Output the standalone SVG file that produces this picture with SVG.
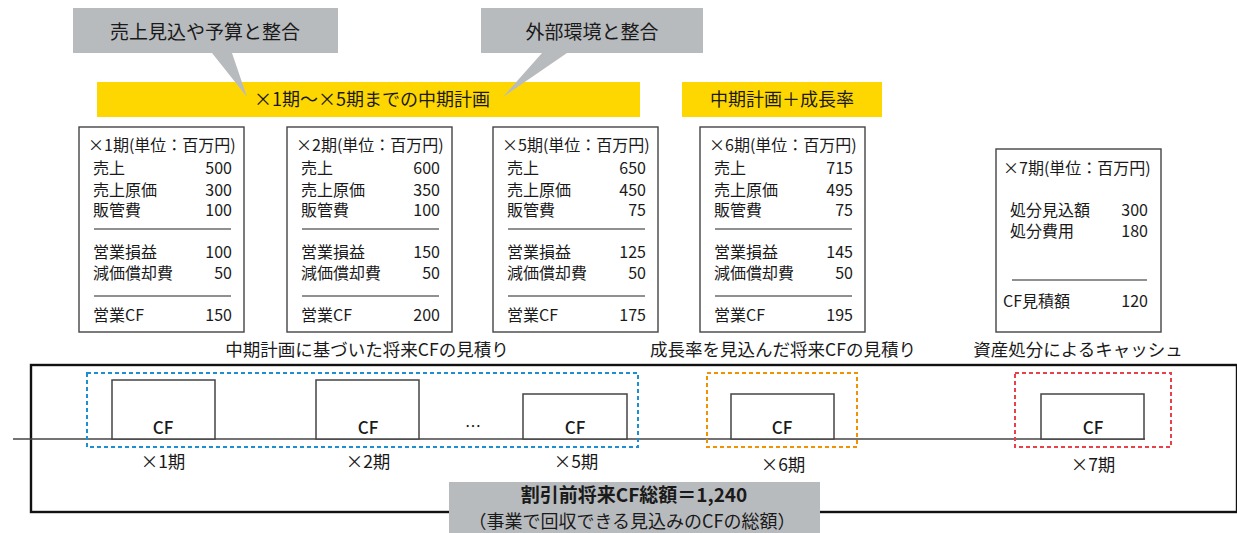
<svg xmlns="http://www.w3.org/2000/svg" width="1237" height="533" viewBox="0 0 1237 533">
<style>
text{font-family:"Noto Sans CJK JP","Noto Sans",sans-serif;fill:#1a1a1a}
.t{font-size:16px}
.n{font-size:16px;text-anchor:end}
.tbl{fill:#fff;stroke:#444;stroke-width:1.4}
.sep{stroke:#222;stroke-width:1.2}
.cf{fill:#fff;stroke:#444;stroke-width:1.5}
.cft{font-size:17px;font-weight:500;text-anchor:middle}
.lbl{font-size:17.5px;text-anchor:middle}
.yel{fill:#FFD700}
.gray{fill:#B8BBBE}
.dash{fill:none;stroke-width:2;stroke-dasharray:4 3}
</style>
<rect width="1237" height="533" fill="#fff"/>

<g id="plan-bar">
<rect class="yel" x="97" y="82" width="543" height="35"/>
<text x="372" y="106" font-size="18" text-anchor="middle">×1期～×5期までの中期計画</text>
</g>
<g id="growth-bar">
<rect class="yel" x="682" y="82" width="200" height="35"/>
<text x="782" y="106" font-size="18" text-anchor="middle">中期計画＋成長率</text>
</g>

<g id="callout-sales">
<path class="gray" d="M73,8 H338 V53 H232 L247,97 L212,53 H73 Z"/>
<text x="205" y="39" font-size="19" text-anchor="middle">売上見込や予算と整合</text>
</g>
<g id="callout-env">
<path class="gray" d="M481,8 H703 V53 H567 L503,97 L542,53 H481 Z"/>
<text x="592" y="39" font-size="19" text-anchor="middle">外部環境と整合</text>
</g>

<g id="table-p1">
<rect class="tbl" x="79" y="127" width="165" height="205"/>
<text class="t" x="88" y="151">×1期(単位：百万円)</text>
<text class="t" x="93" y="174">売上</text><text class="n" x="232" y="174">500</text>
<text class="t" x="93" y="196">売上原価</text><text class="n" x="232" y="196">300</text>
<text class="t" x="93" y="216">販管費</text><text class="n" x="232" y="216">100</text>
<line class="sep" x1="94" y1="229" x2="231" y2="229"/>
<text class="t" x="93" y="258">営業損益</text><text class="n" x="232" y="258">100</text>
<text class="t" x="93" y="279">減価償却費</text><text class="n" x="232" y="279">50</text>
<line class="sep" x1="94" y1="296" x2="231" y2="296"/>
<text class="t" x="93" y="321">営業CF</text><text class="n" x="232" y="321">150</text>
</g>

<g id="table-p2">
<rect class="tbl" x="287" y="127" width="165" height="205"/>
<text class="t" x="296" y="151">×2期(単位：百万円)</text>
<text class="t" x="301" y="174">売上</text><text class="n" x="440" y="174">600</text>
<text class="t" x="301" y="196">売上原価</text><text class="n" x="440" y="196">350</text>
<text class="t" x="301" y="216">販管費</text><text class="n" x="440" y="216">100</text>
<line class="sep" x1="302" y1="229" x2="439" y2="229"/>
<text class="t" x="301" y="258">営業損益</text><text class="n" x="440" y="258">150</text>
<text class="t" x="301" y="279">減価償却費</text><text class="n" x="440" y="279">50</text>
<line class="sep" x1="302" y1="296" x2="439" y2="296"/>
<text class="t" x="301" y="321">営業CF</text><text class="n" x="440" y="321">200</text>
</g>

<g id="table-p5">
<rect class="tbl" x="493" y="127" width="165" height="205"/>
<text class="t" x="502" y="151">×5期(単位：百万円)</text>
<text class="t" x="507" y="174">売上</text><text class="n" x="646" y="174">650</text>
<text class="t" x="507" y="196">売上原価</text><text class="n" x="646" y="196">450</text>
<text class="t" x="507" y="216">販管費</text><text class="n" x="646" y="216">75</text>
<line class="sep" x1="508" y1="229" x2="645" y2="229"/>
<text class="t" x="507" y="258">営業損益</text><text class="n" x="646" y="258">125</text>
<text class="t" x="507" y="279">減価償却費</text><text class="n" x="646" y="279">50</text>
<line class="sep" x1="508" y1="296" x2="645" y2="296"/>
<text class="t" x="507" y="321">営業CF</text><text class="n" x="646" y="321">175</text>
</g>

<g id="table-p6">
<rect class="tbl" x="700" y="127" width="165" height="205"/>
<text class="t" x="709" y="151">×6期(単位：百万円)</text>
<text class="t" x="714" y="174">売上</text><text class="n" x="853" y="174">715</text>
<text class="t" x="714" y="196">売上原価</text><text class="n" x="853" y="196">495</text>
<text class="t" x="714" y="216">販管費</text><text class="n" x="853" y="216">75</text>
<line class="sep" x1="715" y1="229" x2="852" y2="229"/>
<text class="t" x="714" y="258">営業損益</text><text class="n" x="853" y="258">145</text>
<text class="t" x="714" y="279">減価償却費</text><text class="n" x="853" y="279">50</text>
<line class="sep" x1="715" y1="296" x2="852" y2="296"/>
<text class="t" x="714" y="321">営業CF</text><text class="n" x="853" y="321">195</text>
</g>

<g id="table-p7">
<rect class="tbl" x="996" y="149" width="165" height="183"/>
<text class="t" x="1003" y="174">×7期(単位：百万円)</text>
<text class="t" x="1010" y="216">処分見込額</text><text class="n" x="1148" y="216">300</text>
<text class="t" x="1010" y="237">処分費用</text><text class="n" x="1148" y="237">180</text>
<line class="sep" x1="1012" y1="280" x2="1147" y2="280"/>
<text class="t" x="1003" y="307">CF見積額</text><text class="n" x="1148" y="307">120</text>
</g>

<g id="captions">
<text class="lbl" x="367" y="356">中期計画に基づいた将来CFの見積り</text>
<text class="lbl" x="783" y="356">成長率を見込んだ将来CFの見積り</text>
<text class="lbl" x="1078" y="356">資産処分によるキャッシュ</text>
</g>

<g id="frame">
<rect x="31" y="365" width="1206" height="147" fill="none" stroke="#111" stroke-width="2.4"/>
</g>

<g id="connectors">
<line x1="13" y1="439" x2="1145" y2="439" stroke="#444" stroke-width="1.3"/>
</g>

<g id="cf-p1">
<rect class="cf" x="112" y="380" width="103" height="59"/>
<text class="cft" x="163" y="434">CF</text>
<text class="lbl" x="163" y="468">×1期</text>
</g>
<g id="cf-p2">
<rect class="cf" x="316" y="380" width="103" height="59"/>
<text class="cft" x="368" y="434">CF</text>
<text class="lbl" x="368" y="468">×2期</text>
</g>
<g id="ellipsis">
<text x="473" y="432" font-size="16" text-anchor="middle">…</text>
</g>
<g id="cf-p5">
<rect class="cf" x="523" y="394" width="104" height="45"/>
<text class="cft" x="575" y="434">CF</text>
<text class="lbl" x="576" y="468">×5期</text>
</g>
<g id="cf-p6">
<rect class="cf" x="731" y="394" width="103" height="45"/>
<text class="cft" x="782" y="434">CF</text>
<text class="lbl" x="783" y="471">×6期</text>
</g>
<g id="cf-p7">
<rect class="cf" x="1041" y="394" width="103" height="45"/>
<text class="cft" x="1093" y="434">CF</text>
<text class="lbl" x="1093" y="471">×7期</text>
</g>

<g id="group-plan">
<rect class="dash" x="87" y="373" width="551" height="74" stroke="#1B8FD2"/>
</g>
<g id="group-growth">
<rect class="dash" x="707" y="373" width="150" height="74" stroke="#F39200"/>
</g>
<g id="group-disposal">
<rect class="dash" x="1015" y="373" width="156" height="74" stroke="#E8414A"/>
</g>

<g id="total">
<rect class="gray" x="449" y="482" width="371" height="51"/>
<text x="634" y="502" font-size="19" font-weight="bold" text-anchor="middle">割引前将来CF総額＝1,240</text>
<text x="632" y="528" font-size="18" text-anchor="middle">（事業で回収できる見込みのCFの総額）</text>
</g>
</svg>
